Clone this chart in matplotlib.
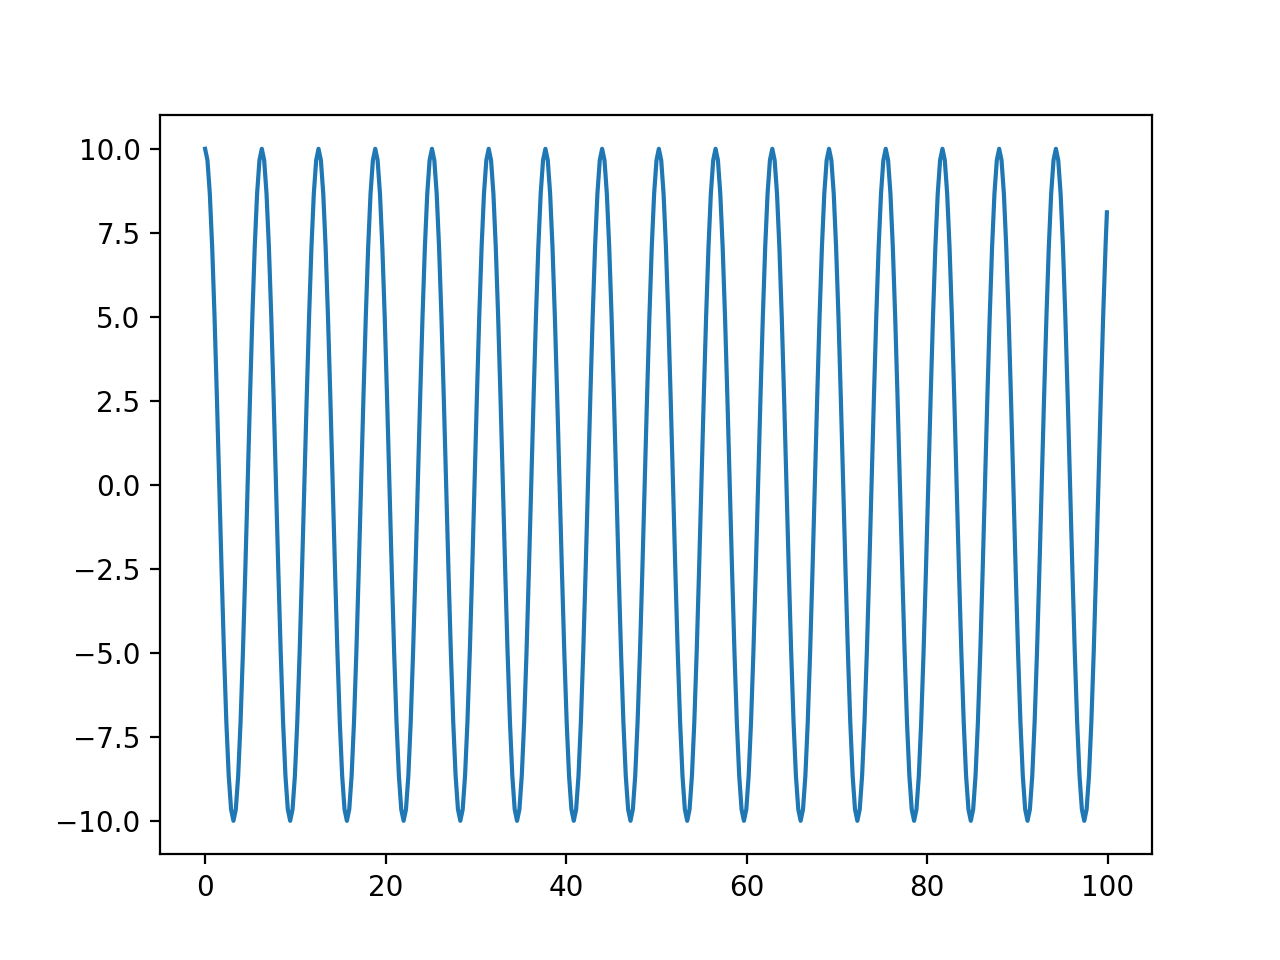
import numpy as np
import matplotlib
matplotlib.use('agg')
import matplotlib.pyplot as plt

# samples read off the wave, one every 15 degrees (x step ~0.2618),
# each row is one full swing: peak -> trough -> back toward peak
x_step = 0.2618
y_vals = [
    10, 9.66, 8.66, 7.07, 5.0, 2.59, 0.0, -2.59, -5.0, -7.07, -8.66, -9.66, -10, -9.66, -8.66, -7.07, -5.0, -2.59, 0.0, 2.59, 5.0, 7.07, 8.66, 9.66,
    10, 9.66, 8.66, 7.07, 5.0, 2.59, 0.0, -2.59, -5.0, -7.07, -8.66, -9.66, -10, -9.66, -8.66, -7.07, -5.0, -2.59, 0.0, 2.59, 5.0, 7.07, 8.66, 9.66,
    10, 9.66, 8.66, 7.07, 5.0, 2.59, 0.0, -2.59, -5.0, -7.07, -8.66, -9.66, -10, -9.66, -8.66, -7.07, -5.0, -2.59, 0.0, 2.59, 5.0, 7.07, 8.66, 9.66,
    10, 9.66, 8.66, 7.07, 5.0, 2.59, 0.0, -2.59, -5.0, -7.07, -8.66, -9.66, -10, -9.66, -8.66, -7.07, -5.0, -2.59, 0.0, 2.59, 5.0, 7.07, 8.66, 9.66,
    10, 9.66, 8.66, 7.07, 5.0, 2.59, 0.0, -2.59, -5.0, -7.07, -8.66, -9.66, -10, -9.66, -8.66, -7.07, -5.0, -2.59, 0.0, 2.59, 5.0, 7.07, 8.66, 9.66,
    10, 9.66, 8.66, 7.07, 5.0, 2.59, 0.0, -2.59, -5.0, -7.07, -8.66, -9.66, -10, -9.66, -8.66, -7.07, -5.0, -2.59, 0.0, 2.59, 5.0, 7.07, 8.66, 9.66,
    10, 9.66, 8.66, 7.07, 5.0, 2.59, 0.0, -2.59, -5.0, -7.07, -8.66, -9.66, -10, -9.66, -8.66, -7.07, -5.0, -2.59, 0.0, 2.59, 5.0, 7.07, 8.66, 9.66,
    10, 9.66, 8.66, 7.07, 5.0, 2.59, 0.0, -2.59, -5.0, -7.07, -8.66, -9.66, -10, -9.66, -8.66, -7.07, -5.0, -2.59, 0.0, 2.59, 5.0, 7.07, 8.66, 9.66,
    10, 9.66, 8.66, 7.07, 5.0, 2.59, 0.0, -2.59, -5.0, -7.07, -8.66, -9.66, -10, -9.66, -8.66, -7.07, -5.0, -2.59, 0.0, 2.59, 5.0, 7.07, 8.66, 9.66,
    10, 9.66, 8.66, 7.07, 5.0, 2.59, 0.0, -2.59, -5.0, -7.07, -8.66, -9.66, -10, -9.66, -8.66, -7.07, -5.0, -2.59, 0.0, 2.59, 5.0, 7.07, 8.66, 9.66,
    10, 9.66, 8.66, 7.07, 5.0, 2.59, 0.0, -2.59, -5.0, -7.07, -8.66, -9.66, -10, -9.66, -8.66, -7.07, -5.0, -2.59, 0.0, 2.59, 5.0, 7.07, 8.66, 9.66,
    10, 9.66, 8.66, 7.07, 5.0, 2.59, 0.0, -2.59, -5.0, -7.07, -8.66, -9.66, -10, -9.66, -8.66, -7.07, -5.0, -2.59, 0.0, 2.59, 5.0, 7.07, 8.66, 9.66,
    10, 9.66, 8.66, 7.07, 5.0, 2.59, 0.0, -2.59, -5.0, -7.07, -8.66, -9.66, -10, -9.66, -8.66, -7.07, -5.0, -2.59, 0.0, 2.59, 5.0, 7.07, 8.66, 9.66,
    10, 9.66, 8.66, 7.07, 5.0, 2.59, 0.0, -2.59, -5.0, -7.07, -8.66, -9.66, -10, -9.66, -8.66, -7.07, -5.0, -2.59, 0.0, 2.59, 5.0, 7.07, 8.66, 9.66,
    10, 9.66, 8.66, 7.07, 5.0, 2.59, 0.0, -2.59, -5.0, -7.07, -8.66, -9.66, -10, -9.66, -8.66, -7.07, -5.0, -2.59, 0.0, 2.59, 5.0, 7.07, 8.66, 9.66,
    10, 9.66, 8.66, 7.07, 5.0, 2.59, 0.0, -2.59, -5.0, -7.07, -8.66, -9.66, -10, -9.66, -8.66, -7.07, -5.0, -2.59, 0.0, 2.59, 5.0, 7.07,
]
# last sample at the right edge
x_end = 99.9
y_end = 8.11

x = list(np.arange(len(y_vals)) * x_step) + [x_end]
y = y_vals + [y_end]

fig = plt.figure(figsize=(6.4, 4.8), dpi=200)
plt.plot(x, y)
plt.savefig('out.png', dpi=200)
